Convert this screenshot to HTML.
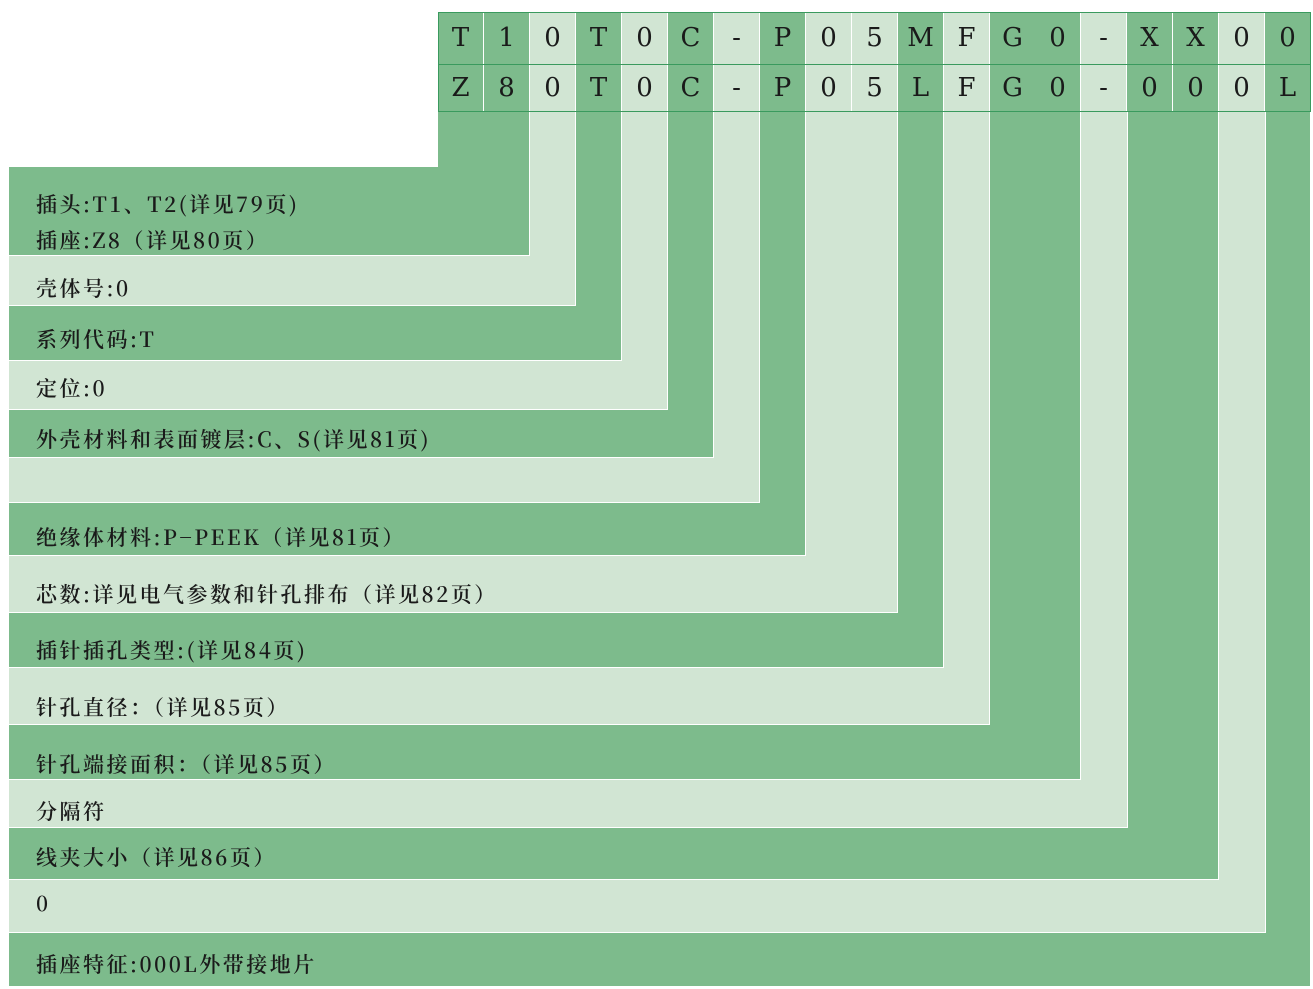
<!DOCTYPE html>
<html><head><meta charset="utf-8"><style>
body{margin:0;width:1313px;height:989px;background:#fff;position:relative;overflow:hidden;font-family:"Liberation Serif","Noto Serif CJK SC",serif;}
.d{background:#7dbb8c}.l{background:#d1e5d3}
.b{position:absolute}
.t{position:absolute;left:36px;font-family:"Noto Serif CJK SC","Liberation Serif",serif;font-weight:600;font-size:21px;letter-spacing:2.5px;line-height:24px;color:#1a1a1a;white-space:nowrap}
.c{position:absolute;height:52px;width:45px;font-family:"DejaVu Serif","Liberation Serif",serif;font-size:26px;text-align:center;line-height:52px;color:#1a1a1a}
.hl{position:absolute;left:438px;width:872px;height:1px;background:#3a9a5e}
</style></head><body>
<div class="b d" style="left:438px;top:111px;width:91px;height:144px"></div><div class="b d" style="left:9px;top:167px;width:520px;height:88px"></div>
<div class="b l" style="left:530px;top:111px;width:45px;height:194px"></div><div class="b l" style="left:9px;top:256px;width:566px;height:49px"></div>
<div class="b d" style="left:576px;top:111px;width:45px;height:249px"></div><div class="b d" style="left:9px;top:306px;width:612px;height:54px"></div>
<div class="b l" style="left:622px;top:111px;width:45px;height:298px"></div><div class="b l" style="left:9px;top:361px;width:658px;height:48px"></div>
<div class="b d" style="left:668px;top:111px;width:45px;height:346px"></div><div class="b d" style="left:9px;top:410px;width:704px;height:47px"></div>
<div class="b l" style="left:714px;top:111px;width:45px;height:391px"></div><div class="b l" style="left:9px;top:458px;width:750px;height:44px"></div>
<div class="b d" style="left:760px;top:111px;width:45px;height:444px"></div><div class="b d" style="left:9px;top:503px;width:796px;height:52px"></div>
<div class="b l" style="left:806px;top:111px;width:91px;height:501px"></div><div class="b l" style="left:9px;top:556px;width:888px;height:56px"></div>
<div class="b d" style="left:898px;top:111px;width:45px;height:556px"></div><div class="b d" style="left:9px;top:613px;width:934px;height:54px"></div>
<div class="b l" style="left:944px;top:111px;width:45px;height:613px"></div><div class="b l" style="left:9px;top:668px;width:980px;height:56px"></div>
<div class="b d" style="left:990px;top:111px;width:90px;height:668px"></div><div class="b d" style="left:9px;top:725px;width:1071px;height:54px"></div>
<div class="b l" style="left:1081px;top:111px;width:46px;height:716px"></div><div class="b l" style="left:9px;top:780px;width:1118px;height:47px"></div>
<div class="b d" style="left:1128px;top:111px;width:90px;height:768px"></div><div class="b d" style="left:9px;top:828px;width:1209px;height:51px"></div>
<div class="b l" style="left:1219px;top:111px;width:46px;height:821px"></div><div class="b l" style="left:9px;top:880px;width:1256px;height:52px"></div>
<div class="b d" style="left:1266px;top:111px;width:44px;height:875px"></div><div class="b d" style="left:9px;top:933px;width:1301px;height:53px"></div>
<div class="t" style="top:192px">插头:T1、T2(详见79页)</div>
<div class="t" style="top:228px">插座:Z8（详见80页）</div>
<div class="t" style="top:276px">壳体号:0</div>
<div class="t" style="top:327px">系列代码:T</div>
<div class="t" style="top:376px">定位:0</div>
<div class="t" style="top:427px">外壳材料和表面镀层:C、S(详见81页)</div>
<div class="t" style="top:525px">绝缘体材料:P−PEEK（详见81页）</div>
<div class="t" style="top:582px">芯数:详见电气参数和针孔排布（详见82页）</div>
<div class="t" style="top:638px">插针插孔类型:(详见84页)</div>
<div class="t" style="top:695px">针孔直径：（详见85页）</div>
<div class="t" style="top:752px">针孔端接面积：（详见85页）</div>
<div class="t" style="top:799px">分隔符</div>
<div class="t" style="top:845px">线夹大小（详见86页）</div>
<div class="t" style="top:891px">0</div>
<div class="t" style="top:952px">插座特征:000L外带接地片</div>
<div class="c d" style="left:438px;top:12px">T</div><div class="c d" style="left:484px;top:12px">1</div><div class="c l" style="left:530px;top:12px">0</div><div class="c d" style="left:576px;top:12px">T</div><div class="c l" style="left:622px;top:12px">0</div><div class="c d" style="left:668px;top:12px">C</div><div class="c l" style="left:714px;top:12px">-</div><div class="c d" style="left:760px;top:12px">P</div><div class="c l" style="left:806px;top:12px">0</div><div class="c l" style="left:852px;top:12px">5</div><div class="c d" style="left:898px;top:12px">M</div><div class="c l" style="left:944px;top:12px">F</div><div class="c d" style="left:990px;top:12px">G</div><div class="c d" style="left:1035px;top:12px">0</div><div class="c l" style="left:1081px;top:12px">-</div><div class="c d" style="left:1127px;top:12px">X</div><div class="c d" style="left:1173px;top:12px">X</div><div class="c l" style="left:1219px;top:12px">0</div><div class="c d" style="left:1265px;top:12px">0</div>
<div class="c d" style="left:438px;top:65px;height:46px;line-height:46px">Z</div><div class="c d" style="left:484px;top:65px;height:46px;line-height:46px">8</div><div class="c l" style="left:530px;top:65px;height:46px;line-height:46px">0</div><div class="c d" style="left:576px;top:65px;height:46px;line-height:46px">T</div><div class="c l" style="left:622px;top:65px;height:46px;line-height:46px">0</div><div class="c d" style="left:668px;top:65px;height:46px;line-height:46px">C</div><div class="c l" style="left:714px;top:65px;height:46px;line-height:46px">-</div><div class="c d" style="left:760px;top:65px;height:46px;line-height:46px">P</div><div class="c l" style="left:806px;top:65px;height:46px;line-height:46px">0</div><div class="c l" style="left:852px;top:65px;height:46px;line-height:46px">5</div><div class="c d" style="left:898px;top:65px;height:46px;line-height:46px">L</div><div class="c l" style="left:944px;top:65px;height:46px;line-height:46px">F</div><div class="c d" style="left:990px;top:65px;height:46px;line-height:46px">G</div><div class="c d" style="left:1035px;top:65px;height:46px;line-height:46px">0</div><div class="c l" style="left:1081px;top:65px;height:46px;line-height:46px">-</div><div class="c d" style="left:1127px;top:65px;height:46px;line-height:46px">0</div><div class="c d" style="left:1173px;top:65px;height:46px;line-height:46px">0</div><div class="c l" style="left:1219px;top:65px;height:46px;line-height:46px">0</div><div class="c d" style="left:1265px;top:65px;height:46px;line-height:46px">L</div>
<div class="hl" style="top:12px"></div><div class="hl" style="top:64px"></div><div class="hl" style="top:111px"></div>
<div class="b" style="left:438px;top:12px;width:1px;height:100px;background:#3a9a5e"></div>
<div class="b" style="left:1310px;top:12px;width:1px;height:100px;background:#3a9a5e"></div>
</body></html>
